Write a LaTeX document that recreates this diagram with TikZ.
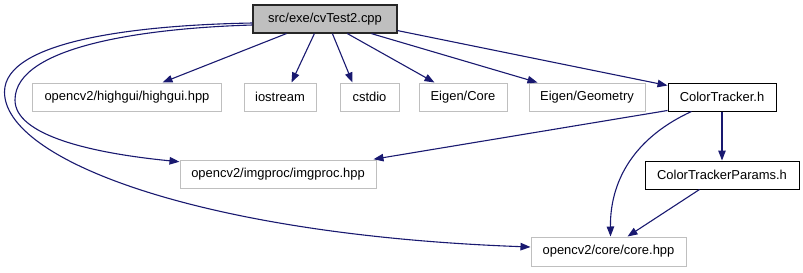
\documentclass[tikz,border=0pt]{standalone}
\usepackage{fontspec}
\setmainfont{Liberation Sans}
\usetikzlibrary{arrows.meta,calc}
\definecolor{edgeblue}{HTML}{191970}
\definecolor{ghost}{HTML}{BFBFBF}
\begin{document}
\begin{tikzpicture}[x=1bp,y=-1bp,
  file/.style={draw, line width=1bp, minimum height=28bp, inner sep=0pt,
    font=\fontsize{13}{15}\selectfont, anchor=center},
  extfile/.style={file, draw=ghost},
  localfile/.style={file, draw=black},
  rootfile/.style={file, draw=black!85, line width=1.2bp, fill=ghost},
  dep/.style={draw=edgeblue, line width=1.1bp,
    -{Triangle[length=10bp,width=7.5bp]}}
]
\useasboundingbox (0,0) rectangle (803,272);

% include graph nodes
\node[rootfile, minimum width=144bp] (root) at (325,19) {src/exe/cvTest2.cpp};

\node[extfile, minimum width=188bp] (highgui) at (127,97) {opencv2/highgui/highgui.hpp};
\node[extfile, minimum width=72bp]  (iostream) at (280,97) {iostream};
\node[extfile, minimum width=59bp]  (cstdio) at (369.5,97) {cstdio};
\node[extfile, minimum width=88bp]  (eigencore) at (463,97) {Eigen/Core};
\node[extfile, minimum width=116bp] (eigengeom) at (587,97) {Eigen/Geometry};
\node[localfile, minimum width=108bp] (tracker) at (722,97) {ColorTracker.h};

\node[extfile, minimum width=196bp, minimum height=27.5bp] (imgproc) at (278,174.5) {opencv2/imgproc/imgproc.hpp};
\node[localfile, minimum width=154bp] (params) at (722,175) {ColorTrackerParams.h};

\node[extfile, minimum width=155bp, minimum height=29bp] (core) at (608.5,251.5) {opencv2/core/core.hpp};

% dependencies of the source file
\draw[dep] ([xshift=34bp]root.south west) -- ([xshift=130bp]highgui.north west);
\draw[dep] ([xshift=62bp]root.south west) -- ([xshift=48bp]iostream.north west);
\draw[dep] ([xshift=80bp]root.south west) -- ([xshift=13bp]cstdio.north west);
\draw[dep] ([xshift=95bp]root.south west) -- ([xshift=16bp]eigencore.north west);
\draw[dep] ([xshift=119bp]root.south west) -- ([xshift=9bp]eigengeom.north west);
\draw[dep] ([yshift=3bp]root.south east) -- ([yshift=-3bp]tracker.north west);
\draw[dep] ([yshift=-6bp]root.west) .. controls (150,28) and (15,45) .. (15,100)
  .. controls (15,135) and (90,153) .. ([yshift=-1.5bp]imgproc.north west);
\draw[dep] ([yshift=-4bp]root.west) .. controls (140,25) and (4.5,40) .. (4.5,92)
  .. controls (4.5,160) and (200,235) .. ([yshift=4.5bp]core.west);

% dependencies of ColorTracker.h
\draw[dep] ([yshift=1bp]tracker.south west) -- ([xshift=-3bp,yshift=1bp]imgproc.north east);
\draw[dep] ([xshift=24bp]tracker.south west) .. controls (640,135) and (610,175) .. ([xshift=80bp]core.north west);
\draw[dep] (tracker.south) -- (params.north);

% dependency of ColorTrackerParams.h
\draw[dep] ([xshift=55bp]params.south west) -- ([xshift=97bp]core.north west);
\end{tikzpicture}
\end{document}
